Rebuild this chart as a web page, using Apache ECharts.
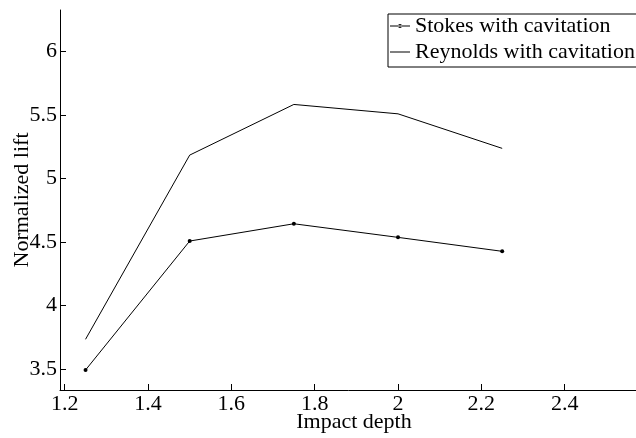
<!DOCTYPE html>
<html><head><meta charset="utf-8">
<script src="https://cdn.jsdelivr.net/npm/echarts@6/dist/echarts.min.js"></script>
<style>html,body{margin:0;padding:0;background:#fff}#c{width:636px;height:438px}</style>
</head><body><div id="c"></div>
<script>
const impactDepth = [1.25, 1.5, 1.75, 2.0, 2.25];
const stokesLift = [3.492, 4.508, 4.644, 4.537, 4.427];
const reynoldsLift = [3.734, 5.185, 5.584, 5.510, 5.238];
const xTicks = [1.2, 1.4, 1.6, 1.8, 2.0, 2.2, 2.4];
const yTicks = [3.5, 4, 4.5, 5, 5.5, 6];

const font = 'Liberation Serif';
const fs = 22;
const lineDotIcon = 'path://M0,1.5h20v1h-20z M8,2a2,2 0 1,0 4,0a2,2 0 1,0 -4,0z';
const lineIcon = 'path://M0,1.5h20v1h-20z M0,0h0.01v0.01h-0.01z M19.99,3.99h0.01v0.01h-0.01z';
const chart = echarts.init(document.getElementById('c'), null, {renderer: 'canvas'});
chart.setOption({
  animation: false,
  backgroundColor: '#fff',
  textStyle: {fontFamily: font, color: '#000'},
  grid: {left: 60, right: -12, top: 10, bottom: 48, containLabel: false, outerBoundsMode: 'none'},
  legend: {
    orient: 'vertical', left: 388, top: 14,
    backgroundColor: '#fff', borderColor: '#000', borderWidth: 1, borderRadius: 0,
    padding: [1, 20, 4, 2], itemGap: 4, itemWidth: 20, itemHeight: 4,
    textStyle: {fontFamily: font, fontSize: fs, color: '#000'},
    data: [
      {name: 'Stokes with cavitation', icon: lineDotIcon, itemStyle: {color: '#000'}},
      {name: 'Reynolds with cavitation', icon: lineIcon, itemStyle: {color: '#000'}}
    ]
  },
  xAxis: {
    type: 'value', min: 1.1887, max: 2.6,
    name: 'Impact depth', nameLocation: 'middle', nameGap: 21, nameMoveOverlap: false,
    nameTextStyle: {fontFamily: font, fontSize: fs, color: '#000'},
    axisLine: {show: true, lineStyle: {color: '#000', width: 1}},
    axisTick: {show: true, inside: true, length: 6, customValues: xTicks, lineStyle: {color: '#000'}},
    axisLabel: {customValues: xTicks, fontFamily: font, fontSize: fs, color: '#000', margin: 3,
      formatter: v => (Math.round(v * 10) / 10).toString()},
    splitLine: {show: false}
  },
  yAxis: {
    type: 'value', min: 3.3346, max: 6.328,
    name: 'Normalized lift', nameLocation: 'middle', nameGap: 27, nameRotate: 90, nameMoveOverlap: false,
    nameTextStyle: {fontFamily: font, fontSize: fs, color: '#000'},
    axisLine: {show: true, lineStyle: {color: '#000', width: 1}},
    axisTick: {show: true, inside: true, length: 6, customValues: yTicks, lineStyle: {color: '#000'}},
    axisLabel: {customValues: yTicks, fontFamily: font, fontSize: fs, color: '#000', margin: 3},
    splitLine: {show: false}
  },
  series: [
    {
      name: 'Stokes with cavitation', type: 'line',
      data: impactDepth.map((x, i) => [x, stokesLift[i]]),
      symbol: 'circle', symbolSize: 4, showSymbol: true,
      itemStyle: {color: '#000'}, lineStyle: {color: '#000', width: 1}
    },
    {
      name: 'Reynolds with cavitation', type: 'line',
      data: impactDepth.map((x, i) => [x, reynoldsLift[i]]),
      symbol: 'none', showSymbol: false,
      itemStyle: {color: '#000'}, lineStyle: {color: '#000', width: 1}
    }
  ]
});
</script></body></html>
